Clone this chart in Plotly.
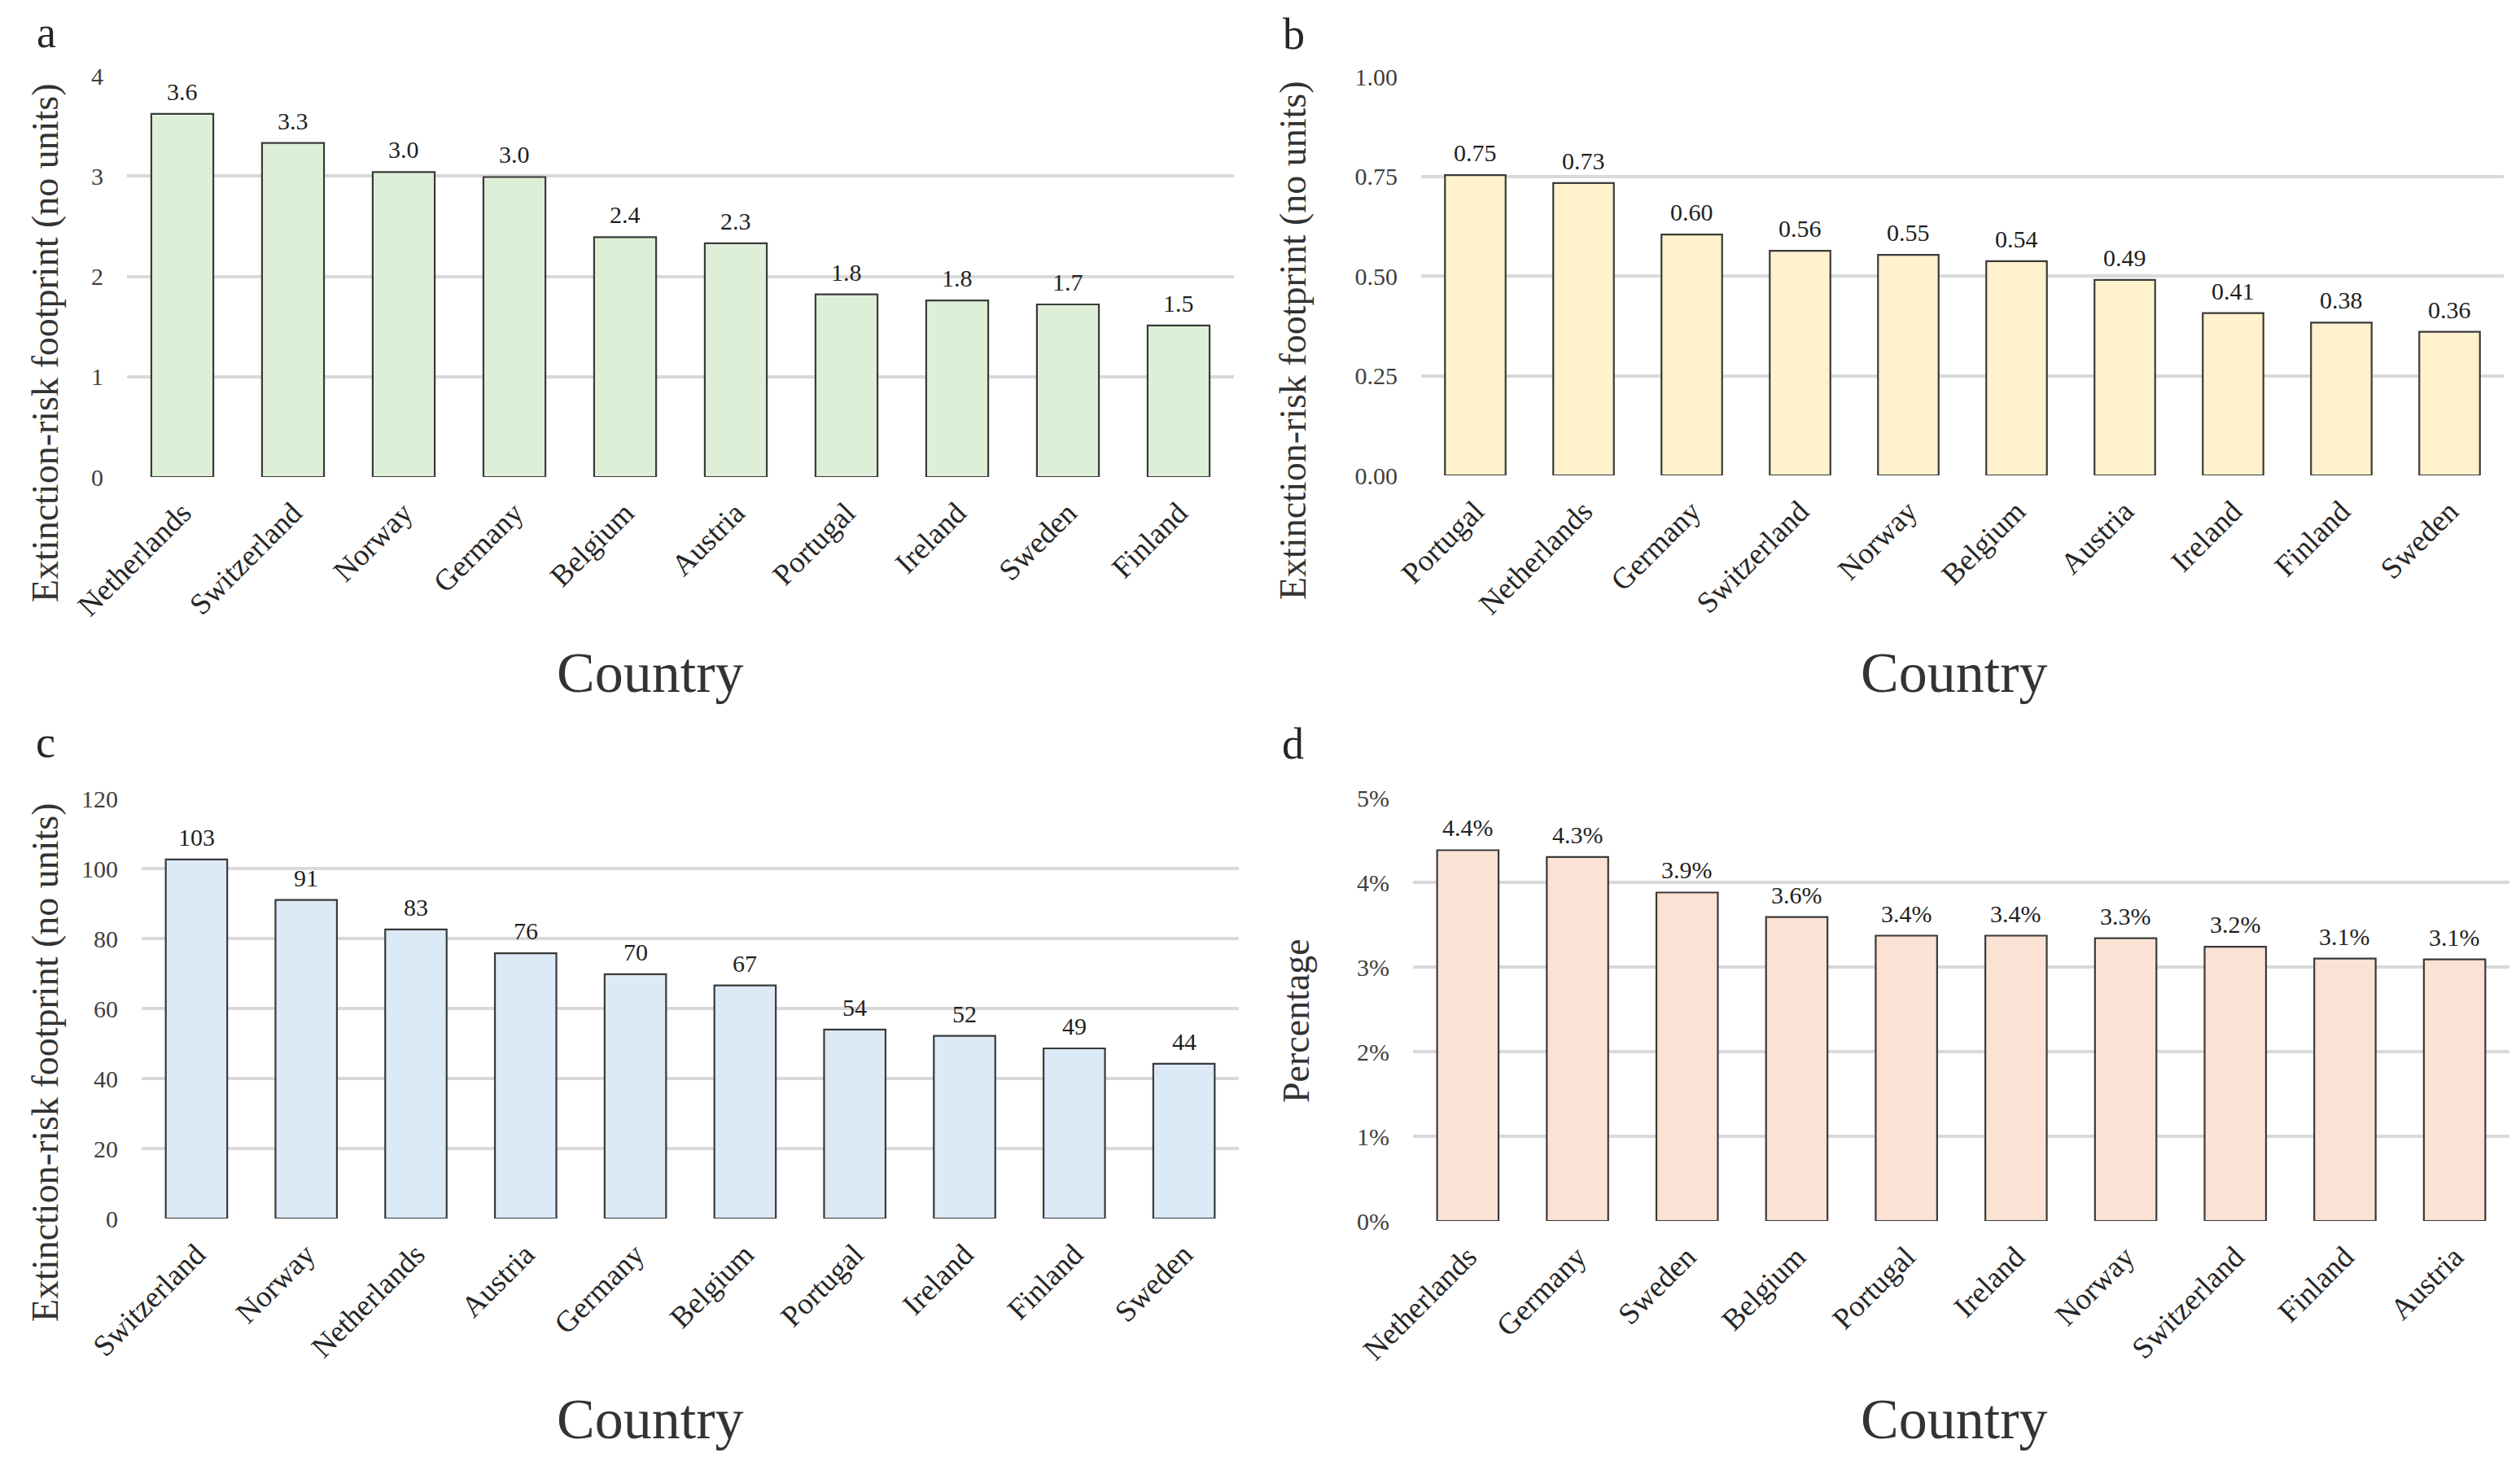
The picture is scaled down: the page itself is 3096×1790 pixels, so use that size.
import plotly.graph_objects as go

W, H = 3096, 1790
FONT = "Liberation Serif"

# ---------------- data ----------------
countries_a = ["Netherlands", "Switzerland", "Norway", "Germany", "Belgium",
               "Austria", "Portugal", "Ireland", "Sweden", "Finland"]
values_a = [3.62, 3.33, 3.04, 2.99, 2.39, 2.33, 1.82, 1.76, 1.72, 1.51]

countries_b = ["Portugal", "Netherlands", "Germany", "Switzerland", "Norway",
               "Belgium", "Austria", "Ireland", "Finland", "Sweden"]
values_b = [0.753, 0.733, 0.604, 0.563, 0.553, 0.537, 0.490, 0.407, 0.383, 0.360]

countries_c = ["Switzerland", "Norway", "Netherlands", "Austria", "Germany",
               "Belgium", "Portugal", "Ireland", "Finland", "Sweden"]
values_c = [102.6, 91.0, 82.6, 75.8, 69.8, 66.6, 54.0, 52.2, 48.6, 44.2]

countries_d = ["Netherlands", "Germany", "Sweden", "Belgium", "Portugal",
               "Ireland", "Norway", "Switzerland", "Finland", "Austria"]
values_d = [4.38, 4.30, 3.88, 3.59, 3.37, 3.37, 3.34, 3.24, 3.10, 3.09]  # percent

panel_letters = ["a", "b", "c", "d"]
y_titles = ["Extinction-risk footprint (no units)", "Extinction-risk footprint (no units)",
            "Extinction-risk footprint (no units)", "Percentage"]
x_title = "Country"

# ---------------- styling / layout ----------------
def px_x(p):
    return p / W

def px_y(p):
    return 1 - p / H

panels = [
    dict(cats=countries_a, vals=values_a, fill="#DEEFD8", rng=[0, 4], dtick=1,
         fmt=".1f", suffix="", tickfmt="", x0=148, x1=1508, y0=85, y1=578,
         letter=(49, 0), ytitle=(47, 413), xtitle=(790, 818)),
    dict(cats=countries_b, vals=values_b, fill="#FFF2CC", rng=[0, 1], dtick=0.25,
         fmt=".2f", suffix="", tickfmt=".2f", x0=1738, x1=3068, y0=86, y1=576,
         letter=(1582, 2), ytitle=(1580, 410), xtitle=(2392, 818)),
    dict(cats=countries_c, vals=values_c, fill="#DCE9F6", rng=[0, 120], dtick=20,
         fmt=".0f", suffix="", tickfmt="", x0=166, x1=1514, y0=973, y1=1489,
         letter=(48, 872), ytitle=(47, 1297), xtitle=(790, 1735)),
    dict(cats=countries_d, vals=values_d, fill="#FCE2D4", rng=[0, 5], dtick=1,
         fmt=".1f", suffix="%", tickfmt="", x0=1728, x1=3075, y0=972, y1=1492,
         letter=(1580, 874), ytitle=(1584, 1246), xtitle=(2392, 1735)),
]

fig = go.Figure()
annotations = []
layout = dict(
    template="none",
    width=W, height=H, autosize=False,
    margin=dict(l=0, r=0, t=0, b=0, pad=0, autoexpand=False),
    paper_bgcolor="white", plot_bgcolor="white",
    showlegend=False,
    font=dict(family=FONT, color="#333333", size=30),
)

for i, p in enumerate(panels, start=1):
    xa = "x" if i == 1 else f"x{i}"
    ya = "y" if i == 1 else f"y{i}"
    fig.add_trace(go.Bar(
        x=p["cats"], y=p["vals"], xaxis=xa, yaxis=ya,
        width=0.56,
        marker=dict(color=p["fill"], line=dict(color="#3A3A3A", width=2.2)),
        hoverinfo="skip",
    ))
    layout["xaxis" if i == 1 else f"xaxis{i}"] = dict(
        domain=[px_x(p["x0"]), px_x(p["x1"])], anchor=ya,
        automargin=False,
        showgrid=False, zeroline=False, showline=False, ticks="",
        tickangle=-45, tickfont=dict(family=FONT, size=37, color="#262626"),
        ticklabelstandoff=14, fixedrange=True,
    )
    layout["yaxis" if i == 1 else f"yaxis{i}"] = dict(
        domain=[px_y(p["y1"]), px_y(p["y0"])], anchor=xa,
        automargin=False,
        range=p["rng"], dtick=p["dtick"], tick0=0, tickformat=p["tickfmt"],
        ticksuffix=p["suffix"],
        showgrid=True, gridcolor="#D9D9D9", gridwidth=4,
        zeroline=False, showline=False, ticks="",
        tickfont=dict(family=FONT, size=30, color="#404040"),
        ticklabelstandoff=28, fixedrange=True,
    )
    # data labels
    for c, v in zip(p["cats"], p["vals"]):
        annotations.append(dict(
            x=c, y=v, xref=xa, yref=ya, text=format(v, p["fmt"]) + p["suffix"],
            showarrow=False, yanchor="bottom", xanchor="center", yshift=9,
            font=dict(family=FONT, size=30, color="#1F1F1F"),
        ))
    # panel letter
    annotations.append(dict(
        x=px_x(p["letter"][0]), y=px_y(p["letter"][1]), xref="paper", yref="paper",
        text=panel_letters[i - 1], showarrow=False, xanchor="center", yanchor="top",
        font=dict(family=FONT, size=54, color="#262626"),
    ))
    # y-axis title
    annotations.append(dict(
        x=px_x(p["ytitle"][0]), y=px_y(p["ytitle"][1]), xref="paper", yref="paper",
        text=y_titles[i - 1], showarrow=False, textangle=-90,
        xanchor="center", yanchor="middle",
        font=dict(family=FONT, size=46, color="#333333"),
    ))
    # x-axis title
    annotations.append(dict(
        x=px_x(p["xtitle"][0]), y=px_y(p["xtitle"][1]), xref="paper", yref="paper",
        text=x_title, showarrow=False, xanchor="center", yanchor="middle",
        font=dict(family=FONT, size=70, color="#333333"),
    ))

layout["annotations"] = annotations
fig.update_layout(**layout)
fig.write_html("out.html")
